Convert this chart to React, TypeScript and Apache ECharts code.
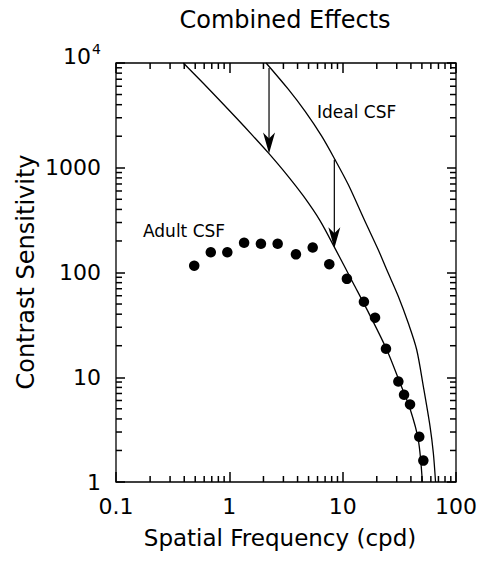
import React, { useEffect, useRef } from "react";
import * as echarts from "echarts";

const chartTitle = "Combined Effects";
const xAxisTitle = "Spatial Frequency (cpd)";
const yAxisTitle = "Contrast Sensitivity";
const idealLabel = "Ideal CSF";
const adultLabel = "Adult CSF";

const xTicks = [0.1, 1, 10, 100];
const xTickLabels = ["0.1", "1", "10", "100"];
const yTicks = [1, 10, 100, 1000, 10000];
const yTickLabels = ["1", "10", "100", "1000", "10^4"];
const minorSteps = [2, 3, 4, 5, 6, 7, 8, 9];

const adultDotFreq = [0.49, 0.686, 0.96, 1.35, 1.9, 2.67, 3.87, 5.44, 7.62, 10.9, 15.4, 19.3, 24.1, 31, 34.8, 39.3, 47.4, 51.5];
const adultDotSens = [116, 156, 156, 192, 188, 188, 149, 173, 120, 87, 52.5, 37, 18.7, 9.1, 6.8, 5.5, 2.7, 1.6];

const adultCurveFreq = [0.393, 0.589, 0.828, 1.16, 1.63, 2.21, 3.21, 4.5, 6.31, 8.56, 12.4, 17.4, 24.5, 32.1, 39.3, 46.5, 50.5];
const adultCurveSens = [10000, 6400, 4365, 2965, 1995, 1387, 861, 538, 313, 170, 79, 39, 18.3, 8.8, 5.0, 2.53, 1];

const idealCurveFreq = [2.11, 3.31, 4.65, 6.53, 8.56, 11.2, 15.7, 20.6, 24.5, 31, 37.9, 45, 51.5, 59, 63.1, 66];
const idealCurveSens = [10000, 5620, 3467, 2002, 1195, 691, 310, 165, 106, 59, 32.9, 18.3, 8.17, 3.4, 1.89, 1];

const arrowFreq = [2.24, 8.44];
const arrowFrom = [8980, 1195];
const arrowTo = [1370, 170];

const FONT = "'DejaVu Sans', 'Liberation Sans', sans-serif";
const INK = "#000";
const W = 487;
const H = 568;
const GRID = { left: 116, top: 63, right: 31, bottom: 86 };

function near(a: number, b: number) {
  return Math.abs(Math.log10(a) - Math.log10(b)) < 1e-6;
}

function minorValues(majors: number[]) {
  const out: number[] = [];
  majors.forEach((d, i) => {
    if (i < majors.length - 1) minorSteps.forEach((m) => out.push(d * m));
  });
  return out;
}

// Minor log tick marks as thin rect symbols on the plot edges, positioned by the axes' own log scales.
function minorTickSeries(): any[] {
  const xs = minorValues(xTicks);
  const ys = minorValues(yTicks);
  const xMin = xTicks[0];
  const xMax = xTicks[xTicks.length - 1];
  const yMin = yTicks[0];
  const yMax = yTicks[yTicks.length - 1];
  const len = 6;
  const th = 1.5;
  const base = {
    type: "scatter",
    symbol: "rect",
    clip: false,
    silent: true,
    itemStyle: { color: INK, opacity: 1 },
    z: 6,
  };
  return [
    { ...base, name: "minor-bottom", symbolSize: [th, len], symbolOffset: [0, -len / 2], data: xs.map((v) => [v, yMin]) },
    { ...base, name: "minor-top", symbolSize: [th, len], symbolOffset: [0, len / 2], data: xs.map((v) => [v, yMax]) },
    { ...base, name: "minor-left", symbolSize: [len, th], symbolOffset: [len / 2, 0], data: ys.map((v) => [xMin, v]) },
    { ...base, name: "minor-right", symbolSize: [len, th], symbolOffset: [-len / 2, 0], data: ys.map((v) => [xMax, v]) },
  ];
}

export default function App() {
  const ref = useRef<HTMLDivElement>(null);
  useEffect(() => {
    if (!ref.current) return;
    const chart = echarts.init(ref.current, undefined, { renderer: "svg" });

    const arrowRender = (_params: any, api: any) => {
      const x = api.value(0);
      const p0 = api.coord([x, api.value(1)]);
      const p1 = api.coord([x, api.value(2)]);
      const hw = 6;
      const hl = 21;
      const notch = 15;
      return {
        type: "group",
        children: [
          {
            type: "line",
            shape: { x1: p0[0], y1: p0[1], x2: p1[0], y2: p1[1] - notch },
            style: { stroke: INK, lineWidth: 1.2 },
          },
          {
            type: "polygon",
            shape: {
              points: [
                [p1[0], p1[1]],
                [p1[0] - hw, p1[1] - hl],
                [p1[0], p1[1] - notch],
                [p1[0] + hw, p1[1] - hl],
              ],
            },
            style: { fill: INK },
          },
        ],
      };
    };

    const textStyle = (text: string, size: number, align: string, vAlign: string) => ({
      text,
      fill: INK,
      fontSize: size,
      fontFamily: FONT,
      align,
      verticalAlign: vAlign,
      textAlign: align,
      textVerticalAlign: vAlign,
    });

    const xBase = {
      type: "log",
      logBase: 10,
      min: xTicks[0],
      max: xTicks[xTicks.length - 1],
      axisLine: { show: false },
      axisTick: { show: true, inside: true, length: 10, lineStyle: { color: INK, width: 1.5 } },
      splitLine: { show: false },
    };
    const yBase = {
      type: "log",
      logBase: 10,
      min: yTicks[0],
      max: yTicks[yTicks.length - 1],
      axisLine: { show: false },
      axisTick: { show: true, inside: true, length: 9, lineStyle: { color: INK, width: 1.5 } },
      splitLine: { show: false },
    };

    const option: any = {
      animation: false,
      backgroundColor: "#fff",
      grid: {
        ...GRID,
        show: true,
        borderColor: INK,
        borderWidth: 1.3,
        backgroundColor: "transparent",
      },
      xAxis: [
        {
          ...xBase,
          position: "bottom",
          axisLabel: {
            color: INK,
            fontSize: 22,
            fontFamily: FONT,
            margin: 13,
            formatter: (v: number) => {
              const i = xTicks.findIndex((t) => near(t, v));
              return i >= 0 ? xTickLabels[i] : "";
            },
          },
        },
        { ...xBase, position: "top", axisLabel: { show: false } },
      ],
      yAxis: [
        {
          ...yBase,
          position: "left",
          axisLabel: {
            color: INK,
            fontSize: 22,
            fontFamily: FONT,
            margin: 15,
            formatter: (v: number) => {
              const i = yTicks.findIndex((t) => near(t, v));
              if (i < 0) return "";
              const lab = yTickLabels[i];
              if (lab.indexOf("^") >= 0) {
                const [b, e] = lab.split("^");
                return `{base|${b}}{sup|${e}}`;
              }
              return lab;
            },
            rich: {
              base: { fontSize: 22, fontFamily: FONT, color: INK, padding: [0, 0, 14, 0] },
              sup: { fontSize: 14, fontFamily: FONT, color: INK, padding: [0, 0, 28, 1] },
            },
          },
        },
        { ...yBase, position: "right", axisLabel: { show: false } },
      ],
      graphic: [
        { type: "text", x: 285, y: 8, style: textStyle(chartTitle, 24, "center", "top") },
        { type: "text", x: 26, y: 272, rotation: Math.PI / 2, style: textStyle(yAxisTitle, 24, "center", "middle") },
        { type: "text", x: 280, y: 526, style: textStyle(xAxisTitle, 23, "center", "top") },
        { type: "text", x: 317, y: 112, style: textStyle(idealLabel, 17, "left", "middle") },
        { type: "text", x: 143, y: 231, style: textStyle(adultLabel, 17, "left", "middle") },
      ],
      series: [
        {
          name: "Ideal CSF",
          type: "line",
          data: idealCurveFreq.map((f, i) => [f, idealCurveSens[i]]),
          showSymbol: false,
          smooth: 0.3,
          lineStyle: { color: INK, width: 1.3 },
          z: 3,
        },
        {
          name: "Adult CSF curve",
          type: "line",
          data: adultCurveFreq.map((f, i) => [f, adultCurveSens[i]]),
          showSymbol: false,
          smooth: 0.3,
          lineStyle: { color: INK, width: 1.3 },
          z: 3,
        },
        {
          name: "Adult CSF",
          type: "scatter",
          data: adultDotFreq.map((f, i) => [f, adultDotSens[i]]),
          symbol: "circle",
          symbolSize: 10.5,
          itemStyle: { color: INK, opacity: 1 },
          z: 4,
        },
        {
          name: "arrows",
          type: "custom",
          data: arrowFreq.map((f, i) => [f, arrowFrom[i], arrowTo[i]]),
          encode: { x: 0, y: [1, 2] },
          renderItem: arrowRender,
          silent: true,
          z: 5,
        },
        ...minorTickSeries(),
      ],
    };
    chart.setOption(option);
    return () => chart.dispose();
  }, []);
  return (
    <div
      ref={ref}
      style={{ position: "absolute", left: 0, top: 0, width: W, height: H, background: "#fff" }}
    />
  );
}
